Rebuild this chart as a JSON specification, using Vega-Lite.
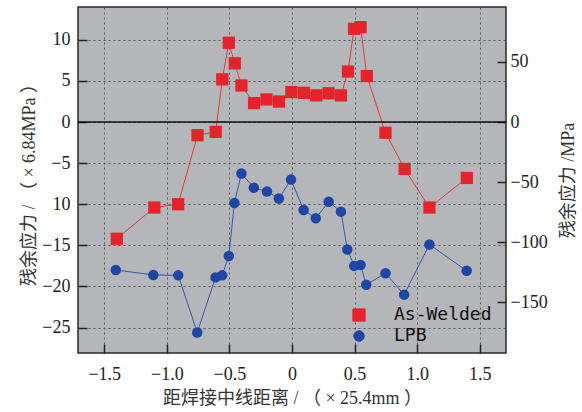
{
  "$schema": "https://vega.github.io/schema/vega-lite/v6.json",
  "width": 428,
  "height": 346,
  "autosize": {"type": "none"},
  "padding": {"left": 78, "top": 7, "right": 76, "bottom": 59},
  "background": "white",
  "config": {
    "view": {"fill": "#b5b6b9", "stroke": "#2a2a2a", "strokeWidth": 1.5},
    "axis": {
      "labelFont": "Liberation Serif",
      "labelFontSize": 18,
      "labelColor": "#222222",
      "titleFont": "Liberation Serif, Noto Sans CJK SC",
      "titleFontWeight": "normal",
      "titleFontSize": 18,
      "titleColor": "#333333",
      "domain": false,
      "tickColor": "#222222",
      "tickWidth": 1.5,
      "tickSize": -9,
      "gridColor": "#555555",
      "gridDash": [2, 3],
      "gridWidth": 1
    }
  },
  "datasets": {
    "stress": [
      {"series": "As-Welded", "x": -1.40, "y": -14.2},
      {"series": "As-Welded", "x": -1.10, "y": -10.4},
      {"series": "As-Welded", "x": -0.91, "y": -10.0},
      {"series": "As-Welded", "x": -0.755, "y": -1.6},
      {"series": "As-Welded", "x": -0.61, "y": -1.2},
      {"series": "As-Welded", "x": -0.557, "y": 5.2},
      {"series": "As-Welded", "x": -0.505, "y": 9.65},
      {"series": "As-Welded", "x": -0.457, "y": 7.15},
      {"series": "As-Welded", "x": -0.404, "y": 4.45},
      {"series": "As-Welded", "x": -0.303, "y": 2.3},
      {"series": "As-Welded", "x": -0.204, "y": 2.75},
      {"series": "As-Welded", "x": -0.104, "y": 2.5},
      {"series": "As-Welded", "x": -0.005, "y": 3.65},
      {"series": "As-Welded", "x": 0.095, "y": 3.55},
      {"series": "As-Welded", "x": 0.194, "y": 3.25},
      {"series": "As-Welded", "x": 0.292, "y": 3.5},
      {"series": "As-Welded", "x": 0.391, "y": 3.25},
      {"series": "As-Welded", "x": 0.447, "y": 6.15},
      {"series": "As-Welded", "x": 0.496, "y": 11.35},
      {"series": "As-Welded", "x": 0.548, "y": 11.55},
      {"series": "As-Welded", "x": 0.598, "y": 5.6},
      {"series": "As-Welded", "x": 0.747, "y": -1.3},
      {"series": "As-Welded", "x": 0.90, "y": -5.7},
      {"series": "As-Welded", "x": 1.098, "y": -10.4},
      {"series": "As-Welded", "x": 1.397, "y": -6.8},
      {"series": "LPB", "x": -1.408, "y": -18.0},
      {"series": "LPB", "x": -1.108, "y": -18.6},
      {"series": "LPB", "x": -0.909, "y": -18.65},
      {"series": "LPB", "x": -0.757, "y": -25.6},
      {"series": "LPB", "x": -0.611, "y": -18.9},
      {"series": "LPB", "x": -0.558, "y": -18.65},
      {"series": "LPB", "x": -0.505, "y": -16.3},
      {"series": "LPB", "x": -0.46, "y": -9.85},
      {"series": "LPB", "x": -0.404, "y": -6.25},
      {"series": "LPB", "x": -0.305, "y": -8.0},
      {"series": "LPB", "x": -0.20, "y": -8.45},
      {"series": "LPB", "x": -0.105, "y": -9.3},
      {"series": "LPB", "x": -0.008, "y": -7.0},
      {"series": "LPB", "x": 0.093, "y": -10.7},
      {"series": "LPB", "x": 0.19, "y": -11.7},
      {"series": "LPB", "x": 0.293, "y": -9.7},
      {"series": "LPB", "x": 0.391, "y": -10.9},
      {"series": "LPB", "x": 0.442, "y": -15.5},
      {"series": "LPB", "x": 0.497, "y": -17.5},
      {"series": "LPB", "x": 0.548, "y": -17.4},
      {"series": "LPB", "x": 0.593, "y": -19.8},
      {"series": "LPB", "x": 0.747, "y": -18.4},
      {"series": "LPB", "x": 0.896, "y": -21.0},
      {"series": "LPB", "x": 1.098, "y": -14.9},
      {"series": "LPB", "x": 1.396, "y": -18.1}
    ]
  },
  "layer": [
    {
      "data": {"name": "stress"},
      "encoding": {
        "x": {
          "field": "x",
          "type": "quantitative",
          "scale": {"domain": [-1.71, 1.71], "nice": false, "zero": false},
          "axis": {
            "values": [-1.5, -1, -0.5, 0, 0.5, 1, 1.5],
            "labelExpr": "datum.value === 0 ? '0' : format(datum.value, '.1f')",
            "labelPadding": 21,
            "title": "距焊接中线距离 / （ × 25.4mm ）",
            "titlePadding": 6
          }
        },
        "y": {
          "field": "y",
          "type": "quantitative",
          "scale": {"domain": [-28.1, 14.0], "nice": false, "zero": false},
          "axis": {
            "orient": "left",
            "values": [-25, -20, -15, -10, -5, 0, 5, 10],
            "labelExpr": "datum.value === -10 ? '10' : datum.label",
            "labelPadding": 17,
            "title": "残余应力 / （ × 6.84MPa ）",
            "titlePadding": 3
          }
        },
        "color": {
          "field": "series",
          "type": "nominal",
          "scale": {"domain": ["As-Welded", "LPB"], "range": ["#e5232b", "#1f45a5"]},
          "legend": {
            "orient": "none",
            "legendX": 272,
            "legendY": 299,
            "title": null,
            "padding": 0,
            "symbolSize": 256,
            "labelOffset": 26,
            "rowPadding": 3,
            "labelFont": "DejaVu Sans Mono",
            "labelFontSize": 18,
            "labelColor": "#111111",
            "encoding": {
              "symbols": {
                "strokeWidth": {"value": 1},
                "opacity": {"value": 1}
              }
            }
          }
        }
      },
      "layer": [
        {
          "mark": {"type": "line", "strokeWidth": 1, "opacity": 0.85}
        },
        {
          "mark": {"type": "point", "filled": true, "opacity": 1},
          "encoding": {
            "shape": {"field": "series", "type": "nominal", "scale": {"domain": ["As-Welded", "LPB"], "range": ["square", "circle"]}, "legend": null},
            "size": {"field": "series", "type": "nominal", "scale": {"domain": ["As-Welded", "LPB"], "range": [150, 110]}, "legend": null}
          }
        }
      ]
    },
    {
      "data": {"values": [{}]},
      "mark": {"type": "rule", "color": "#111111", "strokeWidth": 1.5},
      "encoding": {
        "y": {
          "datum": 0,
          "type": "quantitative",
          "scale": {"domain": [-192.2, 95.76], "nice": false, "zero": false},
          "axis": {
            "orient": "right",
            "values": [-150, -100, -50, 0, 50],
            "grid": false,
            "labelPadding": 13,
            "title": "残余应力 /MPa",
            "titleAngle": 270,
            "titlePadding": 30
          }
        }
      }
    }
  ],
  "resolve": {"scale": {"y": "independent"}}
}
